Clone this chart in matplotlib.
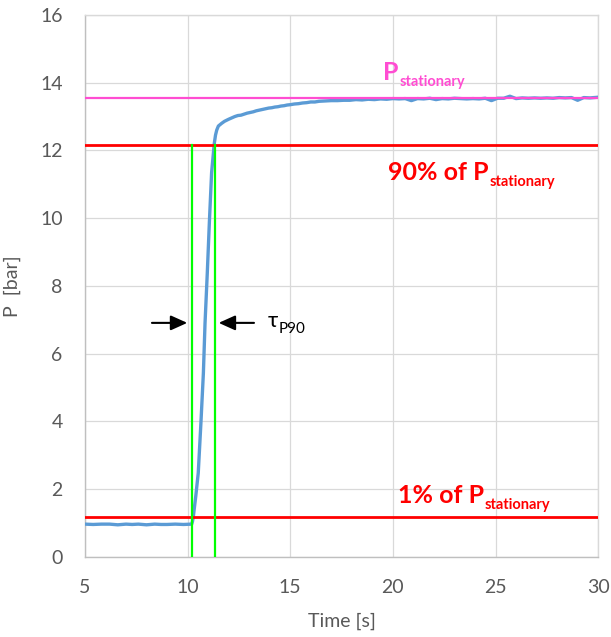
import numpy as np
import matplotlib.pyplot as plt

# pressure trace read from the test run
t_base = [5.0, 5.4, 5.8, 6.2, 6.6, 7.0, 7.3, 7.6, 8.0, 8.4, 8.7, 9.0, 9.4, 9.8, 10.2]
p_base = [0.97, 0.96, 0.97, 0.97, 0.95, 0.97, 0.96, 0.97, 0.95, 0.97, 0.96, 0.96, 0.97, 0.96, 0.97]

t_rise = [10.24, 10.28, 10.4, 10.52, 10.65, 10.77, 10.85, 10.96, 11.06, 11.17, 11.3,
          11.36, 11.42, 11.5, 11.66, 11.8]
p_rise = [1.05, 1.19, 1.8, 2.48, 3.96, 5.43, 6.9, 8.38, 9.86, 11.34, 12.2,
          12.45, 12.6, 12.72, 12.8, 12.86]

t_rec = [12.0, 12.15, 12.3, 12.45, 12.6, 12.75, 12.9, 13.05, 13.2, 13.35, 13.5, 13.65,
         13.8, 13.95, 14.1, 14.25, 14.4, 14.55, 14.7, 14.85, 15.0, 15.2, 15.4, 15.6,
         15.8, 16.0, 16.2, 16.4, 16.7, 17.0, 17.3, 17.6, 17.9, 18.2, 18.5, 18.8, 19.1,
         19.4, 19.7, 20.0, 20.3, 20.6, 20.9, 21.2, 21.5, 21.8, 22.1, 22.4, 22.7, 23.0,
         23.3, 23.6, 23.9, 24.2, 24.5, 24.8, 25.1, 25.4, 25.7, 26.0, 26.3, 26.6, 26.9,
         27.2, 27.5, 27.8, 28.1, 28.4, 28.7, 29.0, 29.3, 29.6, 30.0]
p_rec = [12.92, 12.96, 13.0, 13.03, 13.04, 13.07, 13.1, 13.12, 13.14, 13.17, 13.19, 13.21,
         13.23, 13.25, 13.26, 13.28, 13.29, 13.31, 13.32, 13.34, 13.35, 13.37, 13.38, 13.4,
         13.41, 13.43, 13.43, 13.45, 13.46, 13.47, 13.47, 13.48, 13.48, 13.5, 13.49, 13.51,
         13.5, 13.52, 13.51, 13.53, 13.52, 13.53, 13.47, 13.53, 13.52, 13.54, 13.5, 13.53,
         13.52, 13.54, 13.53, 13.52, 13.53, 13.52, 13.54, 13.47, 13.54, 13.54, 13.6, 13.53,
         13.55, 13.54, 13.55, 13.54, 13.55, 13.54, 13.56, 13.55, 13.56, 13.48, 13.56, 13.55,
         13.57]

t = t_base + t_rise + t_rec
p = p_base + p_rise + p_rec

p_stat = 13.56      # stationary pressure
p_90 = 12.16        # 90% level
p_01 = 1.19         # 1% level
t_start = 10.23     # crossing of 1% level
t_end = 11.32       # crossing of 90% level

plt.rcParams['font.family'] = ['Lato', 'DejaVu Sans']

fig = plt.figure(figsize=(6.11, 6.37), dpi=100)
ax = fig.add_axes([0.139, 0.1256, 0.84, 0.851])

ax.plot(t, p, color='#5B9BD5', lw=2.4, zorder=3)

ax.axhline(p_stat, color='#FF4DD2', lw=1.6, zorder=4)
ax.axhline(p_90, color='#FF0000', lw=2.0, zorder=4)
ax.axhline(p_01, color='#FF0000', lw=2.0, zorder=4)
ax.plot([t_start, t_start], [0, p_90], color='#00FF00', lw=1.6, zorder=5)
ax.plot([t_end, t_end], [0, p_90], color='#00FF00', lw=1.6, zorder=5)

ax.set_xlim(5, 30)
ax.set_ylim(0, 16)
ax.set_xticks(np.arange(5, 31, 5))
ax.set_yticks(np.arange(0, 17, 2))
ax.grid(True, color='#D9D9D9', lw=0.9)
ax.set_axisbelow(True)
ax.tick_params(length=0, labelsize=14, labelcolor='#595959', pad=16)
for side in ['top', 'right']:
    ax.spines[side].set_color('#D9D9D9')
for side in ['left', 'bottom']:
    ax.spines[side].set_color('#BFBFBF')
for s in ax.spines.values():
    s.set_linewidth(1.0)

ax.set_xlabel('Time [s]', fontsize=14, color='#595959', labelpad=12)
ax.set_ylabel('P  [bar]', fontsize=14, color='#595959', labelpad=14)


def label(x, y, main, sub, color, size=18, subsize=10.5, weight='bold'):
    txt = ax.text(x, y, main, color=color, fontsize=size, fontweight=weight,
                  va='baseline', ha='left', zorder=6)
    ax.annotate(sub, xy=(1, 0), xycoords=txt, xytext=(0.5, -1.5), textcoords='offset points',
                color=color, fontsize=subsize, fontweight=weight, va='baseline', ha='left',
                zorder=6)


label(19.52, 14.08, 'P', 'stationary', '#FF4DD2')
label(19.77, 11.13, '90% of P', 'stationary', '#FF0000')
label(20.25, 1.59, '1% of P', 'stationary', '#FF0000')
label(13.92, 6.79, 'τ', 'P90', 'black', size=16, subsize=11, weight='normal')

# arrows pointing at the two crossing times
y_arr = 6.91
ax.annotate('', xy=(t_start - 0.11, y_arr), xytext=(t_start - 2.1, y_arr),
            arrowprops=dict(arrowstyle='-|>,head_length=1.0,head_width=0.45', color='black', lw=1.5))
ax.annotate('', xy=(t_end + 0.06, y_arr), xytext=(t_end + 2.05, y_arr),
            arrowprops=dict(arrowstyle='-|>,head_length=1.0,head_width=0.45', color='black', lw=1.5))

fig.savefig('out.png', dpi=100)
